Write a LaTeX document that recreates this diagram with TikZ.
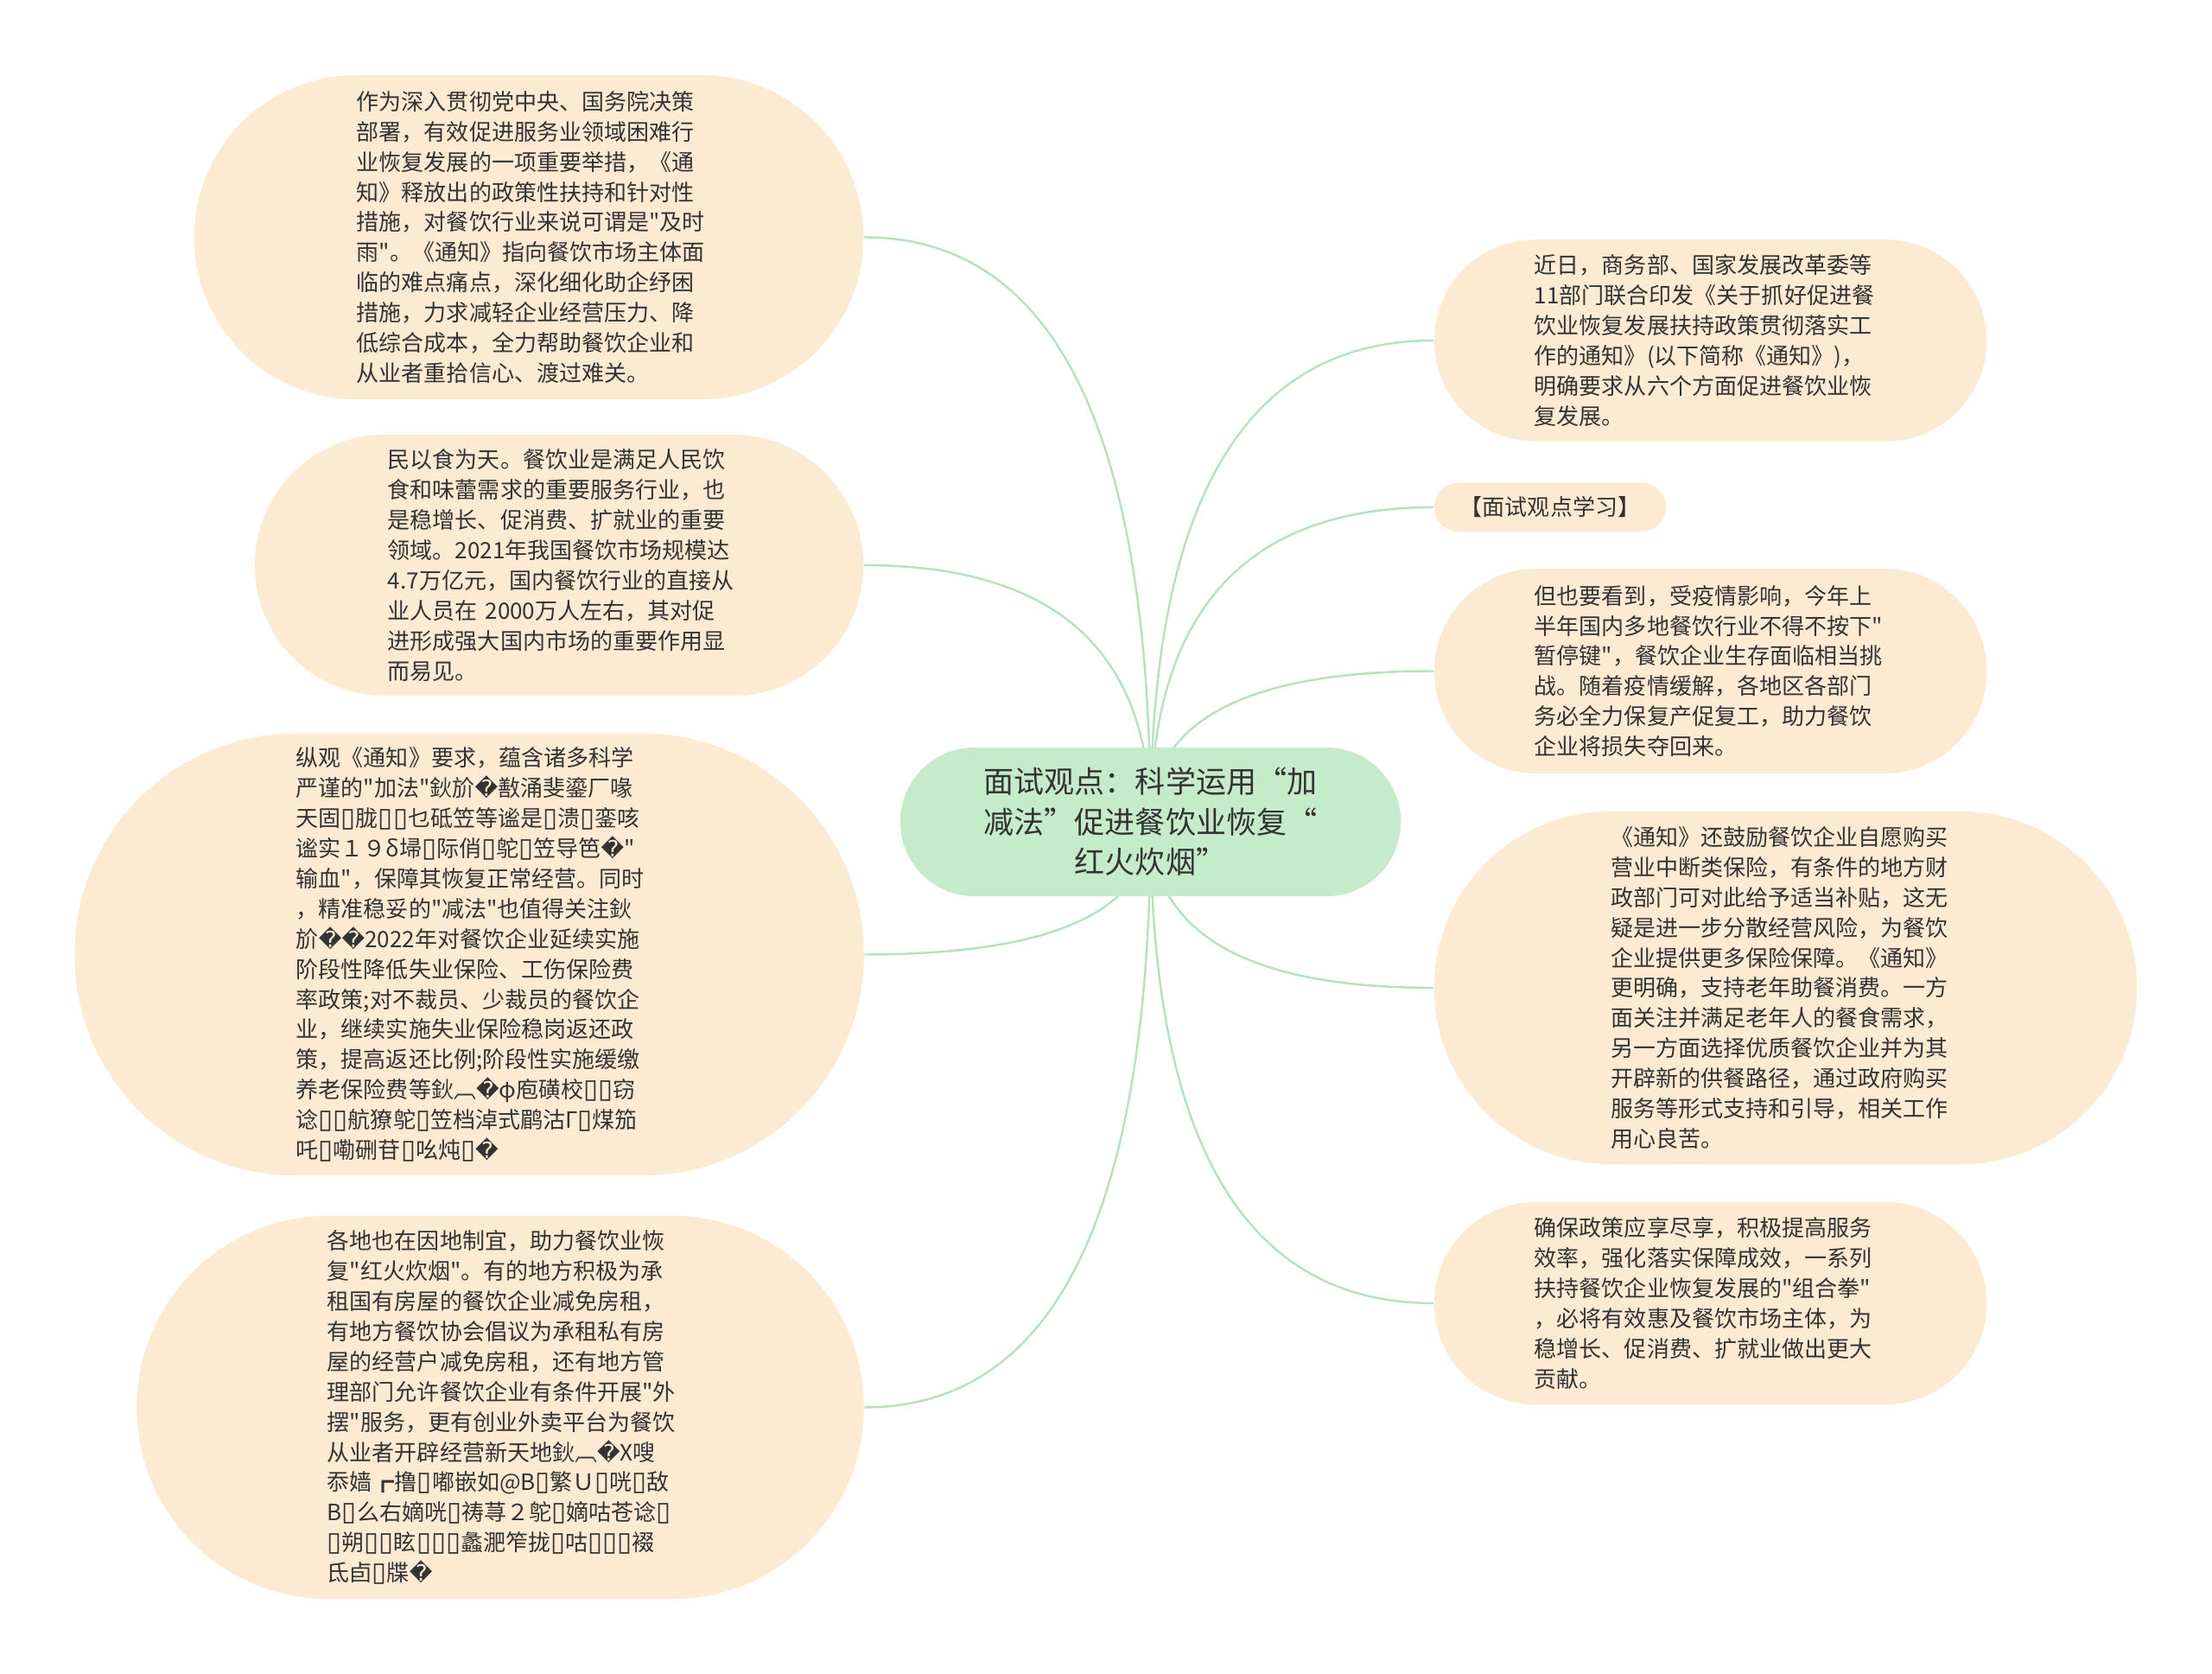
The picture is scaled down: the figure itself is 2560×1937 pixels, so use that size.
\documentclass[tikz,border=0pt]{standalone}
\usepackage{fontspec}
\newfontfamily\cjk{Noto Sans CJK SC}
\setmainfont{Noto Sans CJK SC}
\newfontfamily\dvs{DejaVu Sans}
\usetikzlibrary{backgrounds,calc}
\definecolor{peach}{HTML}{FDEAD3}
\definecolor{rootgreen}{HTML}{C5EBCB}
\definecolor{linkgreen}{HTML}{B7E1BF}
\definecolor{txt}{HTML}{333333}
\newcommand\rpc{{\dvs\char"FFFD}}
\newcommand\tf{{\dvs\fontsize{8.8pt}{8.8pt}\selectfont\char"25AF}}
\newcommand\bodyfont{\cjk\fontsize{7.4pt}{9.93pt}\selectfont}
\newcommand\rootfont{\cjk\fontsize{9.96pt}{13.2pt}\selectfont}
\tikzset{
  leaf/.style={fill=peach, draw=none, align=left, inner sep=0pt, font=\bodyfont, text=txt},
  rootnode/.style={fill=rootgreen, draw=none, align=center, inner sep=0pt, font=\rootfont, text=txt},
  link/.style={draw=linkgreen, line width=0.7pt},
}
\begin{document}
\begin{tikzpicture}[x=0.01cm,y=-0.01cm]
\useasboundingbox (0,0) rectangle (2560,1937);

\node[rootnode, minimum width=5.79cm, minimum height=1.72cm, rounded corners=0.859cm] (root) at (1331.5,951)
{面试观点：科学运用“加\\减法”促进餐饮业恢复“\\红火炊烟”};

\node[leaf, minimum width=7.74cm, minimum height=3.75cm, rounded corners=1.874cm, text width=3.98cm] (l1) at (612,274.5)
{作为深入贯彻党中央、国务院决策\\
部署，有效促进服务业领域困难行\\
业恢复发展的一项重要举措，《通\\
知》释放出的政策性扶持和针对性\\
措施，对餐饮行业来说可谓是"及时\\
雨"。《通知》指向餐饮市场主体面\\
临的难点痛点，深化细化助企纾困\\
措施，力求减轻企业经营压力、降\\
低综合成本，全力帮助餐饮企业和\\
从业者重拾信心、渡过难关。};

\node[leaf, minimum width=7.04cm, minimum height=3.02cm, rounded corners=1.509cm, text width=3.96cm] (l2) at (647,654)
{民以食为天。餐饮业是满足人民饮\\
食和味蕾需求的重要服务行业，也\\
是稳增长、促消费、扩就业的重要\\
领域。2021年我国餐饮市场规模达\\
4.7万亿元，国内餐饮行业的直接从\\
业人员在 2000万人左右，其对促\\
进形成强大国内市场的重要作用显\\
而易见。};

\node[leaf, minimum width=9.13cm, minimum height=5.11cm, rounded corners=2.554cm, text width=4.0cm] (l3) at (543,1104.5)
{纵观《通知》要求，蕴含诸多科学\\
严谨的"加法"鈥斺\rpc 敾涌斐鎏厂喙\\
天固\tf 胧\tf\tf 乜砥笠等谧是\tf 溃\tf 銮咳\\
谧实１９δ埽\tf 际俏\tf 鸵\tf 笠导笆\rpc"\\
输血"，保障其恢复正常经营。同时\\
，精准稳妥的"减法"也值得关注鈥\\
斺\rpc\rpc 2022年对餐饮企业延续实施\\
阶段性降低失业保险、工伤保险费\\
率政策;对不裁员、少裁员的餐饮企\\
业，继续实施失业保险稳岗返还政\\
策，提高返还比例;阶段性实施缓缴\\
养老保险费等鈥︹\rpc φ庖磺校\tf\tf 窃\\
谂\tf\tf 航獠鸵\tf 笠档淖式鹛沽Γ\tf 煤笳\\
吒\tf 嘞硎苷\tf 吆炖\tf\rpc};

\node[leaf, minimum width=8.41cm, minimum height=4.43cm, rounded corners=2.214cm, text width=4.0cm] (l4) at (579,1628.5)
{各地也在因地制宜，助力餐饮业恢\\
复"红火炊烟"。有的地方积极为承\\
租国有房屋的餐饮企业减免房租，\\
有地方餐饮协会倡议为承租私有房\\
屋的经营户减免房租，还有地方管\\
理部门允许餐饮企业有条件开展"外\\
摆"服务，更有创业外卖平台为餐饮\\
从业者开辟经营新天地鈥︹\rpc X嗖\\
忝嫱┏撸\tf 嘟嵌如@B\tf 繁Ｕ\tf 咣\tf 敌\\
B\tf 么右嫡咣\tf 祷荨２鸵\tf 嫡咕苍谂\tf\\
\tf 朔\tf\tf 眩\tf\tf\tf 蠡淝笮拢\tf 咕\tf\tf\tf 裰\\
氐卣\tf 牒\rpc};

\node[leaf, minimum width=6.39cm, minimum height=2.33cm, rounded corners=1.164cm, text width=4.07cm] (r1) at (1979.5,394)
{近日，商务部、国家发展改革委等\\
11部门联合印发《关于抓好促进餐\\
饮业恢复发展扶持政策贯彻落实工\\
作的通知》(以下简称《通知》)，\\
明确要求从六个方面促进餐饮业恢\\
复发展。};

\node[leaf, align=center, minimum width=2.68cm, minimum height=0.57cm, rounded corners=0.284cm] (r2) at (1794,587)
{【面试观点学习】};

\node[leaf, minimum width=6.39cm, minimum height=2.37cm, rounded corners=1.184cm, text width=4.07cm] (r3) at (1979.5,776.5)
{但也要看到，受疫情影响，今年上\\
半年国内多地餐饮行业不得不按下"\\
暂停键"，餐饮企业生存面临相当挑\\
战。随着疫情缓解，各地区各部门\\
务必全力保复产促复工，助力餐饮\\
企业将损失夺回来。};

\node[leaf, minimum width=8.13cm, minimum height=4.08cm, rounded corners=2.039cm, text width=4.04cm] (r4) at (2066.5,1143)
{《通知》还鼓励餐饮企业自愿购买\\
营业中断类保险，有条件的地方财\\
政部门可对此给予适当补贴，这无\\
疑是进一步分散经营风险，为餐饮\\
企业提供更多保险保障。《通知》\\
更明确，支持老年助餐消费。一方\\
面关注并满足老年人的餐食需求，\\
另一方面选择优质餐饮企业并为其\\
开辟新的供餐路径，通过政府购买\\
服务等形式支持和引导，相关工作\\
用心良苦。};

\node[leaf, minimum width=6.39cm, minimum height=2.34cm, rounded corners=1.169cm, text width=4.07cm] (r5) at (1979.5,1508)
{确保政策应享尽享，积极提高服务\\
效率，强化落实保障成效，一系列\\
扶持餐饮企业恢复发展的"组合拳"\\
，必将有效惠及餐饮市场主体，为\\
稳增长、促消费、扩就业做出更大\\
贡献。};

\begin{pgfonlayer}{background}
\fill[white] (0,0) rectangle (2560,1937);
\foreach \n in {l1,l2,l3,l4}{
  \coordinate (q) at (root.center |- \n.east);
  \draw[link] (root.center) .. controls ($(root.center)!0.6667!(q)$) and ($(\n.east)!0.6667!(q)$) .. (\n.east);
}
\foreach \n in {r1,r2,r3,r4,r5}{
  \coordinate (q) at (root.center |- \n.west);
  \draw[link] (root.center) .. controls ($(root.center)!0.6667!(q)$) and ($(\n.west)!0.6667!(q)$) .. (\n.west);
}
\end{pgfonlayer}
\end{tikzpicture}
\end{document}
